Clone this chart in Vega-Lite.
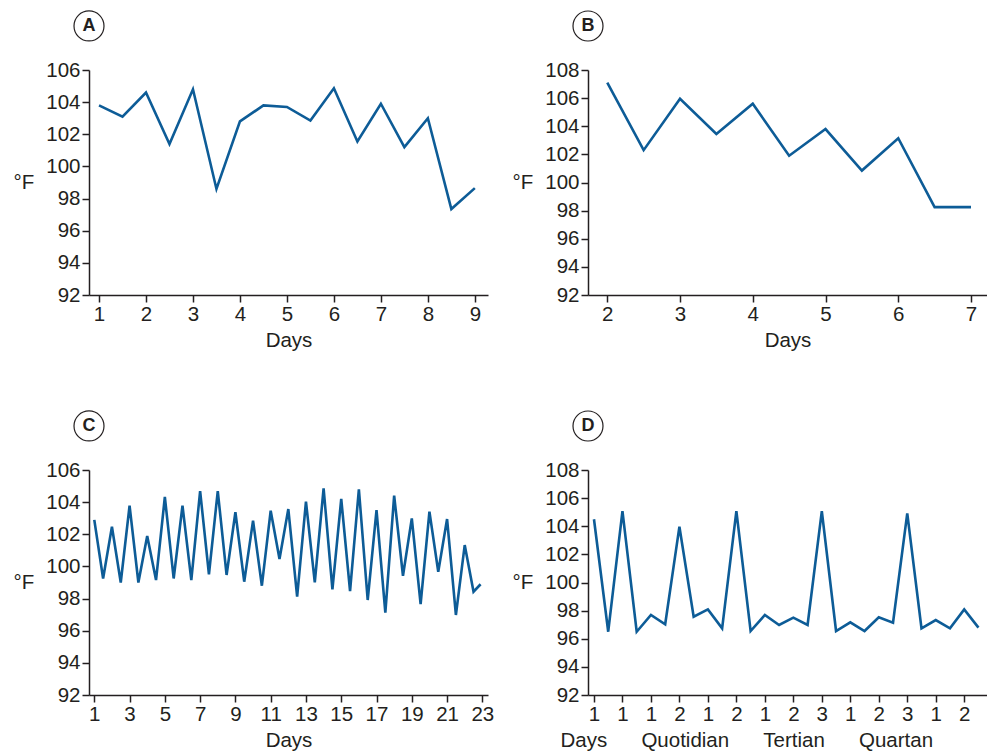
{
  "$schema": "https://vega.github.io/schema/vega-lite/v6.json",
  "padding": {"left": 13, "top": 8, "right": 0, "bottom": 0},
  "background": "white",
  "columns": 2,
  "spacing": {"row": 175, "column": 100},
  "bounds": "flush",
  "config": {
    "view": {"stroke": null},
    "font": "Liberation Sans",
    "axis": {
      "grid": false,
      "domainColor": "#231f20",
      "domainWidth": 1.5,
      "tickColor": "#231f20",
      "tickWidth": 1.5,
      "tickSize": 7,
      "labelFont": "Liberation Sans",
      "labelFontSize": 20.5,
      "labelColor": "#231f20",
      "labelPadding": 2,
      "labelFlush": false,
      "labelOverlap": false,
      "titleFont": "Liberation Sans",
      "titleFontSize": 20.5,
      "titleFontWeight": "normal",
      "titleColor": "#231f20"
    },
    "axisY": {
      "titleAngle": 0,
      "titleAlign": "left",
      "titleBaseline": "middle",
      "titleX": -76,
      "titleY": 112
    },
    "axisX": {"titlePadding": 6}
  },
  "concat": [
    {
      "width": 399,
      "height": 225,
      "layer": [
        {
          "data": {"values": [
            {"day": 1, "temp": 103.8}, {"day": 1.5, "temp": 103.1}, {"day": 2, "temp": 104.6},
            {"day": 2.5, "temp": 101.4}, {"day": 3, "temp": 104.8}, {"day": 3.5, "temp": 98.6},
            {"day": 4, "temp": 102.8}, {"day": 4.5, "temp": 103.8}, {"day": 5, "temp": 103.7},
            {"day": 5.5, "temp": 102.85}, {"day": 6, "temp": 104.86}, {"day": 6.5, "temp": 101.55},
            {"day": 7, "temp": 103.9}, {"day": 7.5, "temp": 101.2}, {"day": 8, "temp": 103.0},
            {"day": 8.5, "temp": 97.35}, {"day": 9, "temp": 98.65}
          ]},
          "mark": {"type": "line", "color": "#0d5c97", "strokeWidth": 2.6, "clip": false},
          "encoding": {
            "x": {"field": "day", "type": "quantitative",
                  "scale": {"domain": [0.787, 9.28], "nice": false, "zero": false},
                  "axis": {"values": [1, 2, 3, 4, 5, 6, 7, 8, 9], "format": "d", "title": "Days"}},
            "y": {"field": "temp", "type": "quantitative",
                  "scale": {"domain": [92, 106], "nice": false, "zero": false},
                  "axis": {"values": [92, 94, 96, 98, 100, 102, 104, 106], "format": "d", "title": "°F"}}
          }
        },
        {
          "data": {"values": [{"panel": "A"}]},
          "mark": {"type": "point", "shape": "circle", "size": 900, "filled": false, "stroke": "#231f20", "strokeWidth": 1.2, "opacity": 1, "clip": false},
          "encoding": {
            "x": {"datum": 0.787, "axis": {"values": [1, 2, 3, 4, 5, 6, 7, 8, 9], "format": "d", "title": "Days"}},
            "y": {"datum": 108.74, "axis": {"values": [92, 94, 96, 98, 100, 102, 104, 106], "format": "d", "title": "°F"}}
          }
        },
        {
          "data": {"values": [{"panel": "A"}]},
          "mark": {"type": "text", "fontWeight": "bold", "fontSize": 18, "font": "Liberation Sans", "color": "#231f20", "baseline": "middle", "align": "center", "clip": false},
          "encoding": {
            "x": {"datum": 0.787, "axis": {"values": [1, 2, 3, 4, 5, 6, 7, 8, 9], "format": "d", "title": "Days"}},
            "y": {"datum": 108.74, "axis": {"values": [92, 94, 96, 98, 100, 102, 104, 106], "format": "d", "title": "°F"}},
            "text": {"field": "panel"}
          }
        }
      ]
    },
    {
      "width": 399,
      "height": 225,
      "layer": [
        {
          "data": {"values": [
            {"day": 2, "temp": 107.1}, {"day": 2.5, "temp": 102.3}, {"day": 3, "temp": 105.95},
            {"day": 3.5, "temp": 103.45}, {"day": 4, "temp": 105.6}, {"day": 4.5, "temp": 101.9},
            {"day": 5, "temp": 103.8}, {"day": 5.5, "temp": 100.85}, {"day": 6, "temp": 103.15},
            {"day": 6.5, "temp": 98.25}, {"day": 7, "temp": 98.25}
          ]},
          "mark": {"type": "line", "color": "#0d5c97", "strokeWidth": 2.6, "clip": false},
          "encoding": {
            "x": {"field": "day", "type": "quantitative",
                  "scale": {"domain": [1.735, 7.22], "nice": false, "zero": false},
                  "axis": {"values": [2, 3, 4, 5, 6, 7], "format": "d", "title": "Days"}},
            "y": {"field": "temp", "type": "quantitative",
                  "scale": {"domain": [92, 108], "nice": false, "zero": false},
                  "axis": {"values": [92, 94, 96, 98, 100, 102, 104, 106, 108], "format": "d", "title": "°F"}}
          }
        },
        {
          "data": {"values": [{"panel": "B"}]},
          "mark": {"type": "point", "shape": "circle", "size": 900, "filled": false, "stroke": "#231f20", "strokeWidth": 1.2, "opacity": 1, "clip": false},
          "encoding": {
            "x": {"datum": 1.735, "axis": {"values": [2, 3, 4, 5, 6, 7], "format": "d", "title": "Days"}},
            "y": {"datum": 111.13, "axis": {"values": [92, 94, 96, 98, 100, 102, 104, 106, 108], "format": "d", "title": "°F"}}
          }
        },
        {
          "data": {"values": [{"panel": "B"}]},
          "mark": {"type": "text", "fontWeight": "bold", "fontSize": 18, "font": "Liberation Sans", "color": "#231f20", "baseline": "middle", "align": "center", "clip": false},
          "encoding": {
            "x": {"datum": 1.735, "axis": {"values": [2, 3, 4, 5, 6, 7], "format": "d", "title": "Days"}},
            "y": {"datum": 111.13, "axis": {"values": [92, 94, 96, 98, 100, 102, 104, 106, 108], "format": "d", "title": "°F"}},
            "text": {"field": "panel"}
          }
        }
      ]
    },
    {
      "width": 399,
      "height": 225,
      "layer": [
        {
          "data": {"values": [
            {"day": 1, "temp": 102.9}, {"day": 1.5, "temp": 99.25}, {"day": 2, "temp": 102.47},
            {"day": 2.5, "temp": 99.0}, {"day": 3, "temp": 103.78}, {"day": 3.5, "temp": 99.0},
            {"day": 4, "temp": 101.9}, {"day": 4.5, "temp": 99.15}, {"day": 5, "temp": 104.32},
            {"day": 5.5, "temp": 99.25}, {"day": 6, "temp": 103.78}, {"day": 6.5, "temp": 99.15},
            {"day": 7, "temp": 104.69}, {"day": 7.5, "temp": 99.5}, {"day": 8, "temp": 104.69},
            {"day": 8.5, "temp": 99.47}, {"day": 9, "temp": 103.37}, {"day": 9.5, "temp": 99.05},
            {"day": 10, "temp": 102.85}, {"day": 10.5, "temp": 98.8}, {"day": 11, "temp": 103.47},
            {"day": 11.5, "temp": 100.46}, {"day": 12, "temp": 103.57}, {"day": 12.5, "temp": 98.12},
            {"day": 13, "temp": 104.03}, {"day": 13.5, "temp": 99.01}, {"day": 14, "temp": 104.86},
            {"day": 14.5, "temp": 98.57}, {"day": 15, "temp": 104.2}, {"day": 15.5, "temp": 98.47},
            {"day": 16, "temp": 104.8}, {"day": 16.5, "temp": 97.91}, {"day": 17, "temp": 103.51},
            {"day": 17.5, "temp": 97.12}, {"day": 18, "temp": 104.4}, {"day": 18.5, "temp": 99.42},
            {"day": 19, "temp": 102.99}, {"day": 19.5, "temp": 97.66}, {"day": 20, "temp": 103.41},
            {"day": 20.5, "temp": 99.67}, {"day": 21, "temp": 102.95}, {"day": 21.5, "temp": 96.98},
            {"day": 22, "temp": 101.33}, {"day": 22.5, "temp": 98.43}, {"day": 22.9, "temp": 98.89}
          ]},
          "mark": {"type": "line", "color": "#0d5c97", "strokeWidth": 2.6, "clip": false},
          "encoding": {
            "x": {"field": "day", "type": "quantitative",
                  "scale": {"domain": [0.7, 23.32], "nice": false, "zero": false},
                  "axis": {"values": [1, 3, 5, 7, 9, 11, 13, 15, 17, 19, 21, 23], "format": "d", "title": "Days"}},
            "y": {"field": "temp", "type": "quantitative",
                  "scale": {"domain": [92, 106], "nice": false, "zero": false},
                  "axis": {"values": [92, 94, 96, 98, 100, 102, 104, 106], "format": "d", "title": "°F"}}
          }
        },
        {
          "data": {"values": [{"panel": "C"}]},
          "mark": {"type": "point", "shape": "circle", "size": 900, "filled": false, "stroke": "#231f20", "strokeWidth": 1.2, "opacity": 1, "clip": false},
          "encoding": {
            "x": {"datum": 0.7, "axis": {"values": [1, 3, 5, 7, 9, 11, 13, 15, 17, 19, 21, 23], "format": "d", "title": "Days"}},
            "y": {"datum": 108.74, "axis": {"values": [92, 94, 96, 98, 100, 102, 104, 106], "format": "d", "title": "°F"}}
          }
        },
        {
          "data": {"values": [{"panel": "C"}]},
          "mark": {"type": "text", "fontWeight": "bold", "fontSize": 18, "font": "Liberation Sans", "color": "#231f20", "baseline": "middle", "align": "center", "clip": false},
          "encoding": {
            "x": {"datum": 0.7, "axis": {"values": [1, 3, 5, 7, 9, 11, 13, 15, 17, 19, 21, 23], "format": "d", "title": "Days"}},
            "y": {"datum": 108.74, "axis": {"values": [92, 94, 96, 98, 100, 102, 104, 106], "format": "d", "title": "°F"}},
            "text": {"field": "panel"}
          }
        }
      ]
    },
    {
      "width": 399,
      "height": 225,
      "layer": [
        {
          "data": {"values": [
            {"t": 0, "temp": 104.5}, {"t": 0.5, "temp": 96.5}, {"t": 1, "temp": 105.08},
            {"t": 1.5, "temp": 96.5}, {"t": 2, "temp": 97.69}, {"t": 2.5, "temp": 97.03},
            {"t": 3, "temp": 103.97}, {"t": 3.5, "temp": 97.57}, {"t": 4, "temp": 98.09},
            {"t": 4.5, "temp": 96.74}, {"t": 5, "temp": 105.08}, {"t": 5.5, "temp": 96.55},
            {"t": 6, "temp": 97.69}, {"t": 6.5, "temp": 96.98}, {"t": 7, "temp": 97.5},
            {"t": 7.5, "temp": 96.98}, {"t": 8, "temp": 105.08}, {"t": 8.5, "temp": 96.55},
            {"t": 9, "temp": 97.17}, {"t": 9.5, "temp": 96.55}, {"t": 10, "temp": 97.52},
            {"t": 10.5, "temp": 97.14}, {"t": 11, "temp": 104.92}, {"t": 11.5, "temp": 96.74},
            {"t": 12, "temp": 97.33}, {"t": 12.5, "temp": 96.74}, {"t": 13, "temp": 98.09},
            {"t": 13.5, "temp": 96.79}
          ]},
          "mark": {"type": "line", "color": "#0d5c97", "strokeWidth": 2.6, "clip": false},
          "encoding": {
            "x": {"field": "t", "type": "quantitative",
                  "scale": {"domain": [-0.21, 13.8], "nice": false, "zero": false},
                  "axis": {"values": [0, 1, 2, 3, 4, 5, 6, 7, 8, 9, 10, 11, 12, 13],
                           "labelExpr": "['1','1','1','2','1','2','1','2','3','1','2','3','1','2'][datum.value]",
                           "title": "Days\u00a0\u00a0\u00a0\u00a0\u00a0\u00a0Quotidian\u00a0\u00a0\u00a0\u00a0\u00a0\u00a0Tertian\u00a0\u00a0\u00a0\u00a0\u00a0\u00a0Quartan",
                           "titleAnchor": "start", "titleAlign": "left", "titleX": -28}},
            "y": {"field": "temp", "type": "quantitative",
                  "scale": {"domain": [92, 108], "nice": false, "zero": false},
                  "axis": {"values": [92, 94, 96, 98, 100, 102, 104, 106, 108], "format": "d", "title": "°F"}}
          }
        },
        {
          "data": {"values": [{"panel": "D"}]},
          "mark": {"type": "point", "shape": "circle", "size": 900, "filled": false, "stroke": "#231f20", "strokeWidth": 1.2, "opacity": 1, "clip": false},
          "encoding": {
            "x": {"datum": -0.21, "axis": {"values": [0, 1, 2, 3, 4, 5, 6, 7, 8, 9, 10, 11, 12, 13],
                           "labelExpr": "['1','1','1','2','1','2','1','2','3','1','2','3','1','2'][datum.value]",
                           "title": "Days\u00a0\u00a0\u00a0\u00a0\u00a0\u00a0Quotidian\u00a0\u00a0\u00a0\u00a0\u00a0\u00a0Tertian\u00a0\u00a0\u00a0\u00a0\u00a0\u00a0Quartan",
                           "titleAnchor": "start", "titleAlign": "left", "titleX": -28}},
            "y": {"datum": 111.13, "axis": {"values": [92, 94, 96, 98, 100, 102, 104, 106, 108], "format": "d", "title": "°F"}}
          }
        },
        {
          "data": {"values": [{"panel": "D"}]},
          "mark": {"type": "text", "fontWeight": "bold", "fontSize": 18, "font": "Liberation Sans", "color": "#231f20", "baseline": "middle", "align": "center", "clip": false},
          "encoding": {
            "x": {"datum": -0.21, "axis": {"values": [0, 1, 2, 3, 4, 5, 6, 7, 8, 9, 10, 11, 12, 13],
                           "labelExpr": "['1','1','1','2','1','2','1','2','3','1','2','3','1','2'][datum.value]",
                           "title": "Days\u00a0\u00a0\u00a0\u00a0\u00a0\u00a0Quotidian\u00a0\u00a0\u00a0\u00a0\u00a0\u00a0Tertian\u00a0\u00a0\u00a0\u00a0\u00a0\u00a0Quartan",
                           "titleAnchor": "start", "titleAlign": "left", "titleX": -28}},
            "y": {"datum": 111.13, "axis": {"values": [92, 94, 96, 98, 100, 102, 104, 106, 108], "format": "d", "title": "°F"}},
            "text": {"field": "panel"}
          }
        }
      ]
    }
  ]
}
